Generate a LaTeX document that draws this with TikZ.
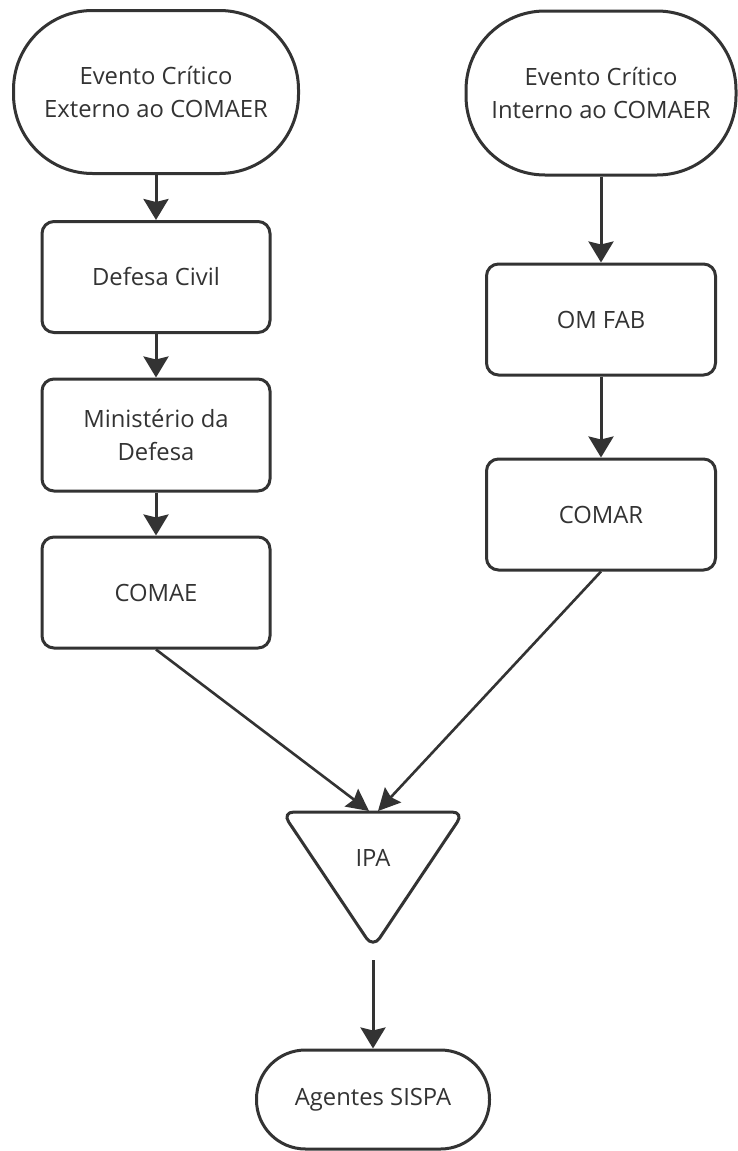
\documentclass[tikz,border=0pt]{standalone}
\usepackage{fontspec}
\setmainfont{Open Sans}
\usetikzlibrary{arrows.meta}
\definecolor{ink}{HTML}{333333}
\begin{document}
\begin{tikzpicture}[x=1pt,y=-1pt,
  every node/.style={font=\fontsize{23.8}{33}\selectfont, text=ink, align=center},
  term/.style={draw=ink, line width=3pt, rectangle, inner sep=0pt},
  box/.style={draw=ink, line width=3pt, rectangle, rounded corners=12pt,
    minimum width=228pt, minimum height=111pt, inner sep=0pt},
  flow/.style={draw=ink, line width=3pt, -{Stealth[length=21pt,width=25pt,inset=3pt]}},
  thinflow/.style={draw=ink, line width=2.6pt, -{Stealth[length=22pt,width=22pt,inset=3pt]}},
]
\useasboundingbox (0,0) rectangle (737,1151);
\fill[white] (0,0) rectangle (737,1151);

% terminals
\node[term, rounded corners=79pt, minimum width=285pt, minimum height=163pt] (ext) at (156,92)
  {Evento Crítico\\Externo ao COMAER};
\node[term, rounded corners=79pt, minimum width=270pt, minimum height=164pt] (int) at (601,93)
  {Evento Crítico\\Interno ao COMAER};

% left column
\node[box] (dc) at (156,277) {Defesa Civil};
\node[box, minimum height=112pt] (md) at (156,435) {Ministério da\\Defesa};
\node[box] (comae) at (156,592.5) {COMAE};

% right column
\node[box, minimum width=229pt] (omfab) at (601,319.5) {OM FAB};
\node[box, minimum width=229pt] (comar) at (601,514.5) {COMAR};

% IPA triangle
\coordinate (tl) at (282,812);
\coordinate (tr) at (464,812);
\coordinate (tip) at (373,948);
\draw[draw=ink, line width=3pt, rounded corners=12pt]
  (373,812) -- (tr) -- (tip) -- (tl) -- cycle;
\node (ipa) at (373,858) {IPA};
\coordinate (ipaL) at (369,811);
\coordinate (ipaR) at (378,811);

% end terminal
\node[term, rounded corners=49pt, minimum width=233pt, minimum height=99pt] (ag) at (373,1099.5)
  {Agentes SISPA};

% connectors
\draw[flow] (ext.south) -- (dc.north);
\draw[flow] (dc.south) -- (md.north);
\draw[flow] (md.south) -- (comae.north);
\draw[flow] (int.south) -- (omfab.north);
\draw[flow] (omfab.south) -- (comar.north);
\draw[thinflow] (comae.south) -- (ipaL);
\draw[thinflow] (comar.south) -- (ipaR);
\draw[flow, shorten <=12pt] (tip) -- (tip |- ag.north);
\end{tikzpicture}
\end{document}
